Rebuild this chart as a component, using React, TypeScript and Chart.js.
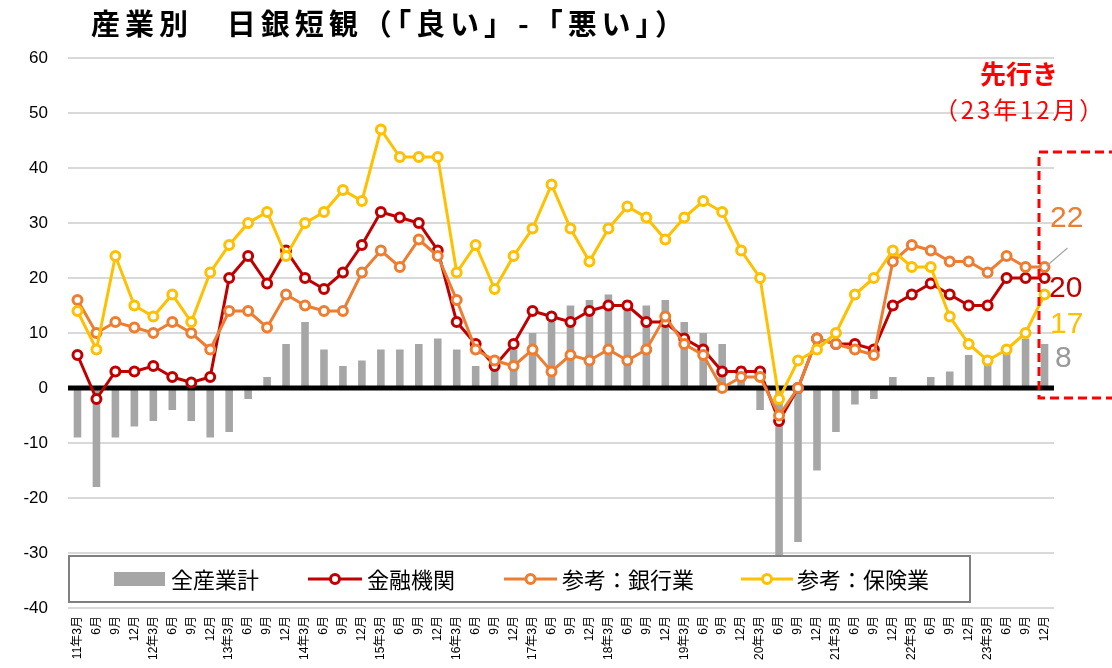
import { useEffect, useRef } from 'react';
import { Chart, registerables } from 'chart.js';
Chart.register(...registerables);

const FONT = '"Liberation Sans", "Noto Sans CJK JP", sans-serif';
const JFONT = '"Noto Sans CJK JP", "Liberation Sans", sans-serif';

const categories = [
  '11年3月', '6月', '9月', '12月',
  '12年3月', '6月', '9月', '12月',
  '13年3月', '6月', '9月', '12月',
  '14年3月', '6月', '9月', '12月',
  '15年3月', '6月', '9月', '12月',
  '16年3月', '6月', '9月', '12月',
  '17年3月', '6月', '9月', '12月',
  '18年3月', '6月', '9月', '12月',
  '19年3月', '6月', '9月', '12月',
  '20年3月', '6月', '9月', '12月',
  '21年3月', '6月', '9月', '12月',
  '22年3月', '6月', '9月', '12月',
  '23年3月', '6月', '9月', '12月',
];

const allIndustry = [
  -9, -18, -9, -7, -6, -4, -6, -9, -8, -2, 2, 8, 12, 7, 4, 5,
  7, 7, 8, 9, 7, 4, 4, 7, 10, 12, 15, 16, 17, 16, 15, 16,
  12, 10, 8, 4, -4, -31, -28, -15, -8, -3, -2, 2, 0, 2, 3, 6, 5, 7, 9, 8,
];

const financial = [
  6, -2, 3, 3, 4, 2, 1, 2, 20, 24, 19, 25, 20, 18, 21, 26,
  32, 31, 30, 25, 12, 8, 4, 8, 14, 13, 12, 14, 15, 15, 12, 12,
  9, 7, 3, 3, 3, -6, 0, 9, 8, 8, 7, 15, 17, 19, 17, 15, 15, 20, 20, 20,
];

const banking = [
  16, 10, 12, 11, 10, 12, 10, 7, 14, 14, 11, 17, 15, 14, 14, 21,
  25, 22, 27, 24, 16, 7, 5, 4, 7, 3, 6, 5, 7, 5, 7, 13,
  8, 6, 0, 2, 2, -5, 0, 9, 8, 7, 6, 23, 26, 25, 23, 23, 21, 24, 22, 22,
];

const insurance = [
  14, 7, 24, 15, 13, 17, 12, 21, 26, 30, 32, 24, 30, 32, 36, 34,
  47, 42, 42, 42, 21, 26, 18, 24, 29, 37, 29, 23, 29, 33, 31, 27,
  31, 34, 32, 25, 20, -2, 5, 7, 10, 17, 20, 25, 22, 22, 13, 8, 5, 7, 10, 17,
];

const seriesNames = ['全産業計', '金融機関', '参考：銀行業', '参考：保険業'];
const colors = ['#A6A6A6', '#C00000', '#ED7D31', '#FFC000'];
const title = '産業別　日銀短観（「良い」-「悪い」）';
const forecastTitle = '先行き';
const forecastDate = '（23年12月）';

function fitText(ctx: CanvasRenderingContext2D, text: string, x: number, y: number, width: number) {
  const c: any = ctx;
  c.letterSpacing = '0px';
  const w = ctx.measureText(text).width;
  const n = Array.from(text).length;
  const ls = (width - w) / n;
  c.letterSpacing = `${ls}px`;
  ctx.textAlign = 'left';
  ctx.fillText(text, x, y);
  c.letterSpacing = '0px';
}

const overlayPlugin = {
  id: 'overlay',
  afterDatasetDraw(chart: any, args: any) {
    if (args.index !== 0) return;
    const { ctx, chartArea, scales } = chart;
    const y0 = scales.y.getPixelForValue(0);
    ctx.save();
    ctx.strokeStyle = '#000';
    ctx.lineWidth = 5;
    ctx.beginPath();
    ctx.moveTo(chartArea.left, y0);
    ctx.lineTo(chartArea.right, y0);
    ctx.stroke();
    ctx.restore();
  },
  afterDatasetsDraw(chart: any) {
    const { ctx, chartArea } = chart;
    ctx.save();
    const lx = chartArea.left + 1;
    const ly = 556;
    const lw = 901;
    const lh = 46;
    ctx.fillStyle = '#fff';
    ctx.fillRect(lx, ly, lw, lh);
    ctx.strokeStyle = '#808080';
    ctx.lineWidth = 2;
    ctx.strokeRect(lx, ly, lw, lh);
    const cy = ly + lh / 2;
    ctx.font = `22px ${JFONT}`;
    ctx.textBaseline = 'middle';
    ctx.textAlign = 'left';
    ctx.fillStyle = colors[0];
    ctx.fillRect(114, cy - 7, 51, 14);
    ctx.fillStyle = '#000';
    ctx.fillText(seriesNames[0], 171, cy + 1);
    const lineItems = [
      { x1: 308, x2: 362, tx: 367 },
      { x1: 504, x2: 557, tx: 562 },
      { x1: 741, x2: 793, tx: 797 },
    ];
    lineItems.forEach((it, i) => {
      const c = colors[i + 1];
      ctx.strokeStyle = c;
      ctx.lineWidth = 3;
      ctx.beginPath();
      ctx.moveTo(it.x1, cy);
      ctx.lineTo(it.x2, cy);
      ctx.stroke();
      ctx.beginPath();
      ctx.arc((it.x1 + it.x2) / 2, cy, 4.5, 0, Math.PI * 2);
      ctx.fillStyle = '#fff';
      ctx.fill();
      ctx.stroke();
      ctx.fillStyle = '#000';
      ctx.fillText(seriesNames[i + 1], it.tx, cy + 1);
    });
    ctx.restore();
  },
  afterDraw(chart: any) {
    const { ctx, chartArea, scales } = chart;
    ctx.save();
    ctx.fillStyle = '#000';
    ctx.font = `bold 29px ${JFONT}`;
    ctx.textBaseline = 'middle';
    fitText(ctx, title, 91, 24, 598);
    ctx.fillStyle = '#FF0000';
    ctx.font = `bold 26px ${JFONT}`;
    ctx.textAlign = 'center';
    ctx.fillText(forecastTitle, 1019, 74);
    ctx.font = `24px ${JFONT}`;
    fitText(ctx, forecastDate, 934, 110, 172);
    ctx.strokeStyle = '#FF0000';
    ctx.lineWidth = 3;
    ctx.setLineDash([9, 5]);
    ctx.strokeRect(chartArea.right - 15, 152, 90, 246);
    ctx.setLineDash([]);
    const last = categories.length - 1;
    const xLast = scales.x.getPixelForValue(last);
    const lx = chartArea.right - 4;
    ctx.textAlign = 'left';
    ctx.font = `30px ${FONT}`;
    ctx.fillStyle = colors[2];
    ctx.fillText(String(banking[last]), lx, 219);
    ctx.fillStyle = colors[1];
    ctx.fillText(String(financial[last]), lx - 1, 289);
    ctx.fillStyle = colors[3];
    ctx.fillText(String(insurance[last]), lx, 325);
    ctx.fillStyle = '#999999';
    ctx.fillText(String(allIndustry[last]), lx + 5, 359);
    const yb = scales.y.getPixelForValue(banking[last]);
    ctx.strokeStyle = '#A6A6A6';
    ctx.lineWidth = 1.2;
    ctx.beginPath();
    ctx.moveTo(xLast + 2, yb - 1);
    ctx.lineTo(xLast + 23, yb - 19);
    ctx.stroke();
    ctx.restore();
  },
};

export default function App() {
  const ref = useRef<HTMLCanvasElement | null>(null);
  useEffect(() => {
    document.body.style.margin = '0';
    if (!ref.current) return;
    const lineDs = (label: string, data: number[], color: string, order: number) => ({
      type: 'line' as const,
      label,
      data,
      borderColor: color,
      backgroundColor: '#fff',
      borderWidth: 3,
      pointRadius: 4.5,
      pointBorderWidth: 3,
      pointBackgroundColor: '#fff',
      pointBorderColor: color,
      tension: 0,
      order,
    });
    const chart = new Chart(ref.current, {
      type: 'bar',
      data: {
        labels: categories,
        datasets: [
          {
            type: 'bar',
            label: seriesNames[0],
            data: allIndustry,
            backgroundColor: colors[0],
            barPercentage: 0.4,
            categoryPercentage: 1,
            order: 4,
          } as any,
          lineDs(seriesNames[1], financial, colors[1], 3),
          lineDs(seriesNames[2], banking, colors[2], 2),
          lineDs(seriesNames[3], insurance, colors[3], 1),
        ],
      },
      options: {
        animation: false,
        responsive: false,
        maintainAspectRatio: false,
        layout: { padding: { top: 58, right: 58, left: 0, bottom: 0 } },
        plugins: {
          legend: { display: false },
          tooltip: { enabled: false },
          title: { display: false },
        },
        scales: {
          x: {
            grid: { display: false, drawTicks: false },
            border: { display: false },
            ticks: {
              autoSkip: false,
              maxRotation: 90,
              minRotation: 90,
              padding: 8,
              font: { size: 12, family: FONT },
              color: '#000',
            },
            afterFit: (s: any) => { s.height = 60; },
          },
          y: {
            min: -40,
            max: 60,
            ticks: { stepSize: 10, padding: 20, font: { size: 17, family: FONT }, color: '#000' },
            grid: {
              color: (c: any) => (c.tick && c.tick.value === 0 ? 'rgba(0,0,0,0)' : '#D9D9D9'),
              lineWidth: 2,
              drawTicks: false,
            },
            border: { display: false },
            afterFit: (s: any) => { s.width = 68; },
          },
        },
      } as any,
      plugins: [overlayPlugin],
    });
    return () => chart.destroy();
  }, []);
  return (
    <div style={{ width: 1112, height: 668 }}>
      <canvas ref={ref} width={1112} height={668} style={{ display: 'block', width: 1112, height: 668 }} />
    </div>
  );
}
